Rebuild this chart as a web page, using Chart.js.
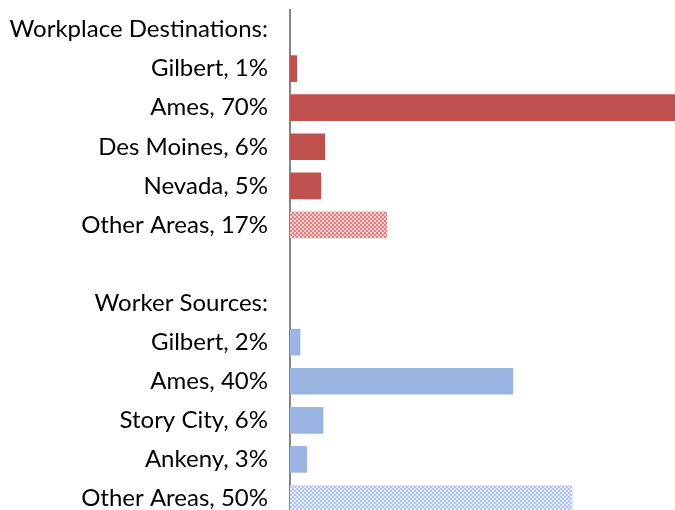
<!DOCTYPE html>
<html>
<head>
<meta charset="utf-8">
<script src="https://cdn.jsdelivr.net/npm/chart.js@4/dist/chart.umd.min.js"></script>
<style>
html,body{margin:0;padding:0;background:#fff;overflow:hidden;}
#wrap{position:relative;width:675px;height:528px;}
</style>
</head>
<body>
<div id="wrap"><canvas id="c"></canvas></div>
<script>
// ---- data ----
const destHeader = 'Workplace Destinations:';
const destLabels = ['Gilbert, 1%', 'Ames, 70%', 'Des Moines, 6%', 'Nevada, 5%', 'Other Areas, 17%'];
const destValues = [1.2, 70, 6.2, 5.5, 17.3];
const sourceHeader = 'Worker Sources:';
const sourceLabels = ['Gilbert, 2%', 'Ames, 40%', 'Story City, 6%', 'Ankeny, 3%', 'Other Areas, 50%'];
const sourceValues = [1.8, 39.8, 5.9, 3, 50.4];

const RED = '#C0504D';
const BLUE = '#9BB5E2';

function checker(dark, light) {
  const p = document.createElement('canvas');
  p.width = 4; p.height = 4;
  const g = p.getContext('2d');
  g.fillStyle = light; g.fillRect(0, 0, 4, 4);
  g.fillStyle = dark;
  g.fillRect(0, 0, 2, 2); g.fillRect(2, 2, 2, 2);
  g.fillStyle = '#FFFFFF';
  g.fillRect(3, 0, 1, 1);
  return g.createPattern(p, 'repeat');
}

const labels = [destHeader, ...destLabels, '', sourceHeader, ...sourceLabels];
const values = [null, ...destValues, null, null, ...sourceValues];
const colors = [null,
  ...destLabels.map((l, i) => i === destLabels.length - 1 ? checker('#DA8583', '#F0C6C5') : RED),
  null, null,
  ...sourceLabels.map((l, i) => i === sourceLabels.length - 1 ? checker('#B3C7EC', '#DEE7F8') : BLUE)];

new Chart(document.getElementById('c'), {
  type: 'bar',
  data: {
    labels: labels,
    datasets: [{
      data: values,
      backgroundColor: colors,
      borderWidth: 0,
      barThickness: 26
    }]
  },
  options: {
    indexAxis: 'y',
    responsive: true,
    maintainAspectRatio: false,
    animation: false,
    layout: { padding: { top: 10, right: 0, bottom: 10, left: 0 } },
    plugins: { legend: { display: false }, tooltip: { enabled: false } },
    scales: {
      x: { display: false, min: 0, max: 68.75 },
      y: {
        afterFit(scale) { scale.width = 290; },
        grid: { display: true, drawOnChartArea: false, drawTicks: true, tickLength: 22, color: 'rgba(0,0,0,0)' },
        border: { display: true, color: '#868686', width: 2 },
        ticks: {
          color: '#000000',
          padding: 0,
          font: { family: 'Lato', size: 24, lineHeight: 0.8 }
        }
      }
    }
  }
});
</script>
</body>
</html>
